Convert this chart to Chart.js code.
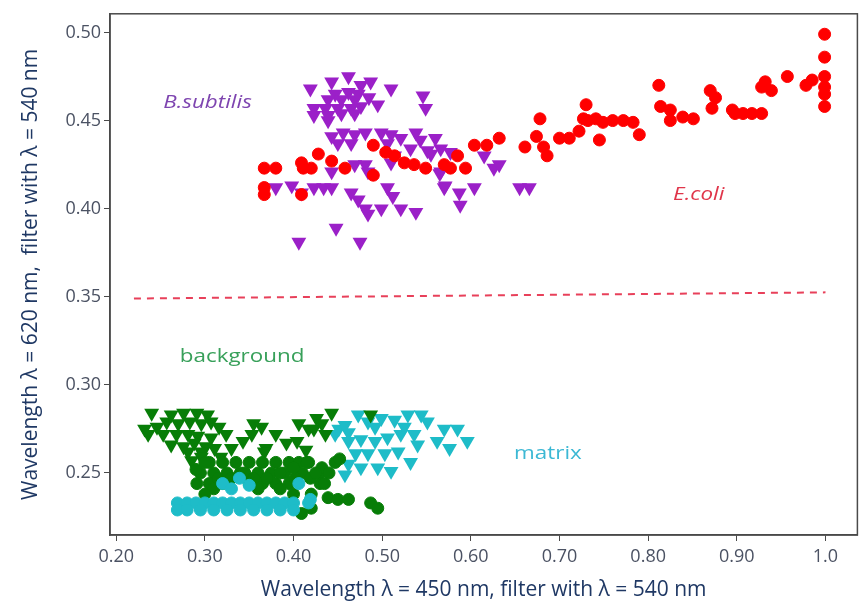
<!DOCTYPE html>
<html>
<head>
<meta charset="utf-8">
<script src="https://cdn.jsdelivr.net/npm/chart.js@4.4.1/dist/chart.umd.min.js"></script>
<style>
  html, body { margin: 0; padding: 0; background: #fff; }
  #wrap { width: 866px; height: 603px; }
</style>
</head>
<body>
<div id="wrap"><canvas id="c"></canvas></div>
<script>
// tick labels
const xTickVals = [0.2, 0.3, 0.4, 0.5, 0.6, 0.7, 0.8, 0.9, 1.0];
const xTickLabels = ['0.20', '0.30', '0.40', '0.50', '0.60', '0.70', '0.80', '0.90', '1.0'];
const yTickVals = [0.25, 0.30, 0.35, 0.40, 0.45, 0.50];
const yTickLabels = ['0.25', '0.30', '0.35', '0.40', '0.45', '0.50'];

// E.coli (red circles)
const ecoliX = [0.367, 0.380, 0.367, 0.367, 0.409, 0.411, 0.420, 0.428, 0.443, 0.458, 0.409, 0.490, 0.490,
  0.504, 0.514, 0.525, 0.536, 0.549, 0.570, 0.577, 0.585, 0.594, 0.604, 0.618, 0.632, 0.661, 0.674, 0.678,
  0.682, 0.686, 0.700, 0.711, 0.722, 0.727, 0.730, 0.732, 0.741, 0.745, 0.749, 0.760, 0.772, 0.783, 0.790,
  0.812, 0.814, 0.825, 0.825, 0.839, 0.851, 0.870, 0.876, 0.872, 0.895, 0.898, 0.907, 0.917, 0.928, 0.932,
  0.928, 0.939, 0.957, 0.978, 0.985, 0.999, 0.999, 0.999, 0.999, 0.999, 0.999];
const ecoliY = [0.423, 0.423, 0.412, 0.408, 0.426, 0.423, 0.423, 0.431, 0.427, 0.423, 0.408, 0.436, 0.419,
  0.432, 0.430, 0.426, 0.425, 0.423, 0.425, 0.423, 0.430, 0.423, 0.436, 0.436, 0.440, 0.435, 0.441, 0.451,
  0.435, 0.430, 0.440, 0.440, 0.444, 0.451, 0.459, 0.450, 0.451, 0.439, 0.449, 0.450, 0.450, 0.449, 0.442,
  0.470, 0.458, 0.456, 0.450, 0.452, 0.451, 0.467, 0.463, 0.457, 0.456, 0.454, 0.454, 0.454, 0.454, 0.472,
  0.469, 0.467, 0.475, 0.470, 0.473, 0.499, 0.486, 0.475, 0.469, 0.465, 0.458];

// B.subtilis (purple triangles)
const subtX = [0.462, 0.443, 0.419, 0.487, 0.476, 0.510, 0.546, 0.549, 0.447, 0.462, 0.473, 0.439, 0.454,
  0.469, 0.485, 0.495, 0.423, 0.436, 0.450, 0.465, 0.476, 0.423, 0.439, 0.454, 0.469, 0.439, 0.443, 0.456,
  0.469, 0.481, 0.450, 0.465, 0.499, 0.510, 0.506, 0.521, 0.538, 0.543, 0.560, 0.532, 0.551, 0.566, 0.514,
  0.510, 0.481, 0.469, 0.443, 0.484, 0.566, 0.570, 0.380, 0.398, 0.409, 0.423, 0.434, 0.443, 0.465, 0.473,
  0.506, 0.512, 0.499, 0.484, 0.481, 0.521, 0.538, 0.448, 0.406, 0.475, 0.555, 0.577, 0.565, 0.571, 0.587,
  0.604, 0.588, 0.615, 0.626, 0.632, 0.655, 0.666];
const subtY = [0.475, 0.472, 0.468, 0.472, 0.470, 0.468, 0.464, 0.457, 0.465, 0.466, 0.465, 0.462, 0.462,
  0.462, 0.463, 0.459, 0.457, 0.457, 0.457, 0.457, 0.458, 0.453, 0.453, 0.454, 0.454, 0.450, 0.441, 0.443,
  0.442, 0.443, 0.437, 0.437, 0.443, 0.442, 0.437, 0.440, 0.443, 0.439, 0.440, 0.434, 0.433, 0.434, 0.430,
  0.426, 0.425, 0.425, 0.421, 0.421, 0.421, 0.412, 0.412, 0.413, 0.409, 0.412, 0.412, 0.412, 0.409, 0.405,
  0.412, 0.407, 0.400, 0.397, 0.400, 0.400, 0.398, 0.389, 0.381, 0.381, 0.431, 0.432, 0.420, 0.413, 0.409,
  0.412, 0.402, 0.430, 0.423, 0.425, 0.412, 0.412];

// background (green triangles and circles)
const bgTriX = [0.240, 0.232, 0.246, 0.257, 0.270, 0.283, 0.296, 0.307, 0.316, 0.324, 0.253, 0.268, 0.281,
  0.292, 0.307, 0.288, 0.301, 0.285, 0.311, 0.355, 0.364, 0.353, 0.369, 0.380, 0.406, 0.417, 0.426, 0.423,
  0.432, 0.443, 0.487, 0.281, 0.296, 0.367, 0.236, 0.262, 0.276, 0.291, 0.303, 0.262, 0.276, 0.296, 0.318,
  0.330, 0.343, 0.392, 0.404, 0.414, 0.436];
const bgTriY = [0.284, 0.275, 0.276, 0.279, 0.278, 0.279, 0.278, 0.279, 0.276, 0.272, 0.272, 0.272, 0.272,
  0.271, 0.270, 0.267, 0.265, 0.257, 0.264, 0.278, 0.276, 0.272, 0.264, 0.272, 0.278, 0.275, 0.281, 0.275,
  0.278, 0.284, 0.283, 0.262, 0.262, 0.262, 0.272, 0.283, 0.284, 0.284, 0.283, 0.266, 0.265, 0.259, 0.259,
  0.264, 0.268, 0.267, 0.268, 0.263, 0.272];
const bgDotX = [0.305, 0.320, 0.335, 0.350, 0.365, 0.380, 0.395, 0.406, 0.417, 0.447, 0.295, 0.310, 0.325,
  0.360, 0.375, 0.390, 0.410, 0.430, 0.291, 0.305, 0.350, 0.365, 0.380, 0.395, 0.430, 0.400, 0.420, 0.439,
  0.450, 0.462, 0.487, 0.495, 0.409, 0.420, 0.432, 0.402, 0.419, 0.452, 0.340, 0.320, 0.290, 0.300, 0.315,
  0.330, 0.345, 0.355, 0.370, 0.385, 0.400, 0.415, 0.425, 0.440, 0.435, 0.310, 0.360, 0.385, 0.300];
const bgDotY = [0.256, 0.256, 0.256, 0.256, 0.256, 0.256, 0.256, 0.256, 0.256, 0.256, 0.250, 0.250, 0.250,
  0.250, 0.250, 0.250, 0.250, 0.250, 0.244, 0.244, 0.244, 0.244, 0.244, 0.244, 0.244, 0.238, 0.238, 0.236,
  0.235, 0.235, 0.233, 0.230, 0.227, 0.230, 0.253, 0.247, 0.247, 0.258, 0.250, 0.244, 0.252, 0.256, 0.247,
  0.247, 0.250, 0.247, 0.247, 0.250, 0.253, 0.256, 0.250, 0.250, 0.244, 0.241, 0.241, 0.241, 0.238];

// matrix (cyan triangles and circles)
const matTriX = [0.451, 0.462, 0.473, 0.484, 0.499, 0.514, 0.529, 0.544, 0.551, 0.462, 0.476, 0.492, 0.506,
  0.521, 0.536, 0.470, 0.484, 0.503, 0.518, 0.462, 0.476, 0.495, 0.510, 0.532, 0.458, 0.570, 0.585, 0.562,
  0.576, 0.596, 0.447, 0.458, 0.492, 0.525, 0.540];
const matTriY = [0.275, 0.273, 0.283, 0.279, 0.281, 0.280, 0.283, 0.283, 0.279, 0.268, 0.269, 0.268, 0.270,
  0.272, 0.272, 0.261, 0.261, 0.261, 0.262, 0.255, 0.253, 0.253, 0.251, 0.256, 0.249, 0.275, 0.275, 0.268,
  0.264, 0.268, 0.272, 0.277, 0.276, 0.276, 0.266];
const matDotX = [0.269, 0.280, 0.290, 0.300, 0.310, 0.320, 0.330, 0.340, 0.350, 0.360, 0.370, 0.380, 0.390,
  0.400, 0.417, 0.269, 0.280, 0.295, 0.310, 0.325, 0.340, 0.355, 0.370, 0.385, 0.400, 0.320, 0.339, 0.406,
  0.419, 0.330, 0.350];
const matDotY = [0.233, 0.233, 0.233, 0.233, 0.233, 0.233, 0.233, 0.233, 0.233, 0.233, 0.233, 0.233, 0.233,
  0.233, 0.233, 0.229, 0.229, 0.229, 0.229, 0.229, 0.229, 0.229, 0.229, 0.229, 0.229, 0.244, 0.247, 0.244,
  0.235, 0.241, 0.243];

// dashed separating line
const cutX = [0.22, 1.0];
const cutY = [0.349, 0.3525];

// text notes inside the plot
const notes = [
  { text: 'B.subtilis', x: 0.303, y: 0.460, color: '#7e45b0', italic: true },
  { text: 'E.coli', x: 0.857, y: 0.408, color: '#e0354a', italic: true },
  { text: 'background', x: 0.342, y: 0.316, color: '#38a05a', italic: false },
  { text: 'matrix', x: 0.687, y: 0.261, color: '#3cb8d4', italic: false }
];

function pts(xs, ys) {
  return xs.map((x, i) => ({ x: x, y: ys[i] }));
}

const FONT = '"Open Sans", "DejaVu Sans", sans-serif';

const framePlugin = {
  id: 'frame',
  afterDraw(chart) {
    const a = chart.chartArea;
    const ctx = chart.ctx;
    ctx.save();
    ctx.strokeStyle = '#4a4a4a';
    ctx.lineWidth = 1.5;
    ctx.strokeRect(a.left, a.top, a.right - a.left, a.bottom - a.top);
    ctx.restore();
  }
};

// labels are a bit wide in the original, so stretch them horizontally
const notesPlugin = {
  id: 'notes',
  afterDatasetsDraw(chart) {
    const ctx = chart.ctx;
    const sx = chart.scales.x, sy = chart.scales.y;
    notes.forEach(n => {
      ctx.save();
      ctx.textAlign = 'center';
      ctx.textBaseline = 'middle';
      ctx.font = (n.italic ? 'italic ' : '') + '19px ' + FONT;
      ctx.fillStyle = n.color;
      ctx.translate(sx.getPixelForValue(n.x), sy.getPixelForValue(n.y));
      ctx.scale(1.18, 1);
      ctx.fillText(n.text, 0, 0);
      ctx.restore();
    });
  }
};

const circle = color => ({
  pointStyle: 'circle', pointRadius: 6, borderWidth: 1,
  backgroundColor: color, borderColor: color, pointHoverRadius: 6
});
const tri = color => ({
  pointStyle: 'triangle', rotation: 180, pointRadius: 8.6, borderWidth: 0,
  backgroundColor: color, borderColor: color, pointHoverRadius: 8.6
});

new Chart(document.getElementById('c'), {
  type: 'scatter',
  data: {
    datasets: [
      Object.assign({ label: 'E.coli', data: pts(ecoliX, ecoliY) }, circle('#ff0000')),
      Object.assign({ label: 'B.subtilis', data: pts(subtX, subtY) }, tri('#9b20c8')),
      Object.assign({ label: 'matrix dots', data: pts(matDotX, matDotY) }, circle('#1ebcc8')),
      Object.assign({ label: 'background dots', data: pts(bgDotX, bgDotY) }, circle('#077d07')),
      Object.assign({ label: 'background', data: pts(bgTriX, bgTriY) }, tri('#077d07')),
      Object.assign({ label: 'matrix', data: pts(matTriX, matTriY) }, tri('#1ebcc8')),
      {
        label: 'cut', data: pts(cutX, cutY), showLine: true, pointRadius: 0,
        borderColor: '#e8405a', borderWidth: 2, borderDash: [7, 6]
      }
    ]
  },
  options: {
    responsive: true,
    maintainAspectRatio: false,
    animation: false,
    layout: { padding: { top: 6, right: 3, left: 0, bottom: 0 } },
    plugins: { legend: { display: false }, tooltip: { enabled: false } },
    scales: {
      x: {
        type: 'linear', min: 0.193, max: 1.036,
        afterBuildTicks: s => { s.ticks = xTickVals.map(v => ({ value: v })); },
        afterFit: s => { s.height = 68; },
        grid: { display: true, drawOnChartArea: false, drawTicks: true, tickLength: 6, color: '#4a4a4a' },
        border: { display: true, color: '#4a4a4a', width: 1.5 },
        ticks: {
          callback: (v, i) => xTickLabels[i],
          font: { family: FONT, size: 18 }, color: '#4b5263', padding: 5, maxRotation: 0
        },
        title: {
          display: true, text: 'Wavelength λ = 450 nm, filter with λ = 540 nm',
          color: '#1f3864', font: { family: FONT, size: 21 }, padding: { top: 0, bottom: 0 }
        }
      },
      y: {
        type: 'linear', min: 0.2148, max: 0.5106,
        afterBuildTicks: s => { s.ticks = yTickVals.map(v => ({ value: v })); },
        afterFit: s => { s.width = 110; },
        grid: { display: true, drawOnChartArea: false, drawTicks: true, tickLength: 6, color: '#4a4a4a' },
        border: { display: true, color: '#4a4a4a', width: 1.5 },
        ticks: {
          callback: (v, i) => yTickLabels[i],
          font: { family: FONT, size: 18 }, color: '#4b5263', padding: 3
        },
        title: {
          display: true, text: 'Wavelength λ = 620 nm,  filter with λ = 540 nm',
          color: '#1f3864', font: { family: FONT, size: 21 }, padding: { top: 18, bottom: 0 }
        }
      }
    }
  },
  plugins: [framePlugin, notesPlugin]
});
</script>
</body>
</html>
